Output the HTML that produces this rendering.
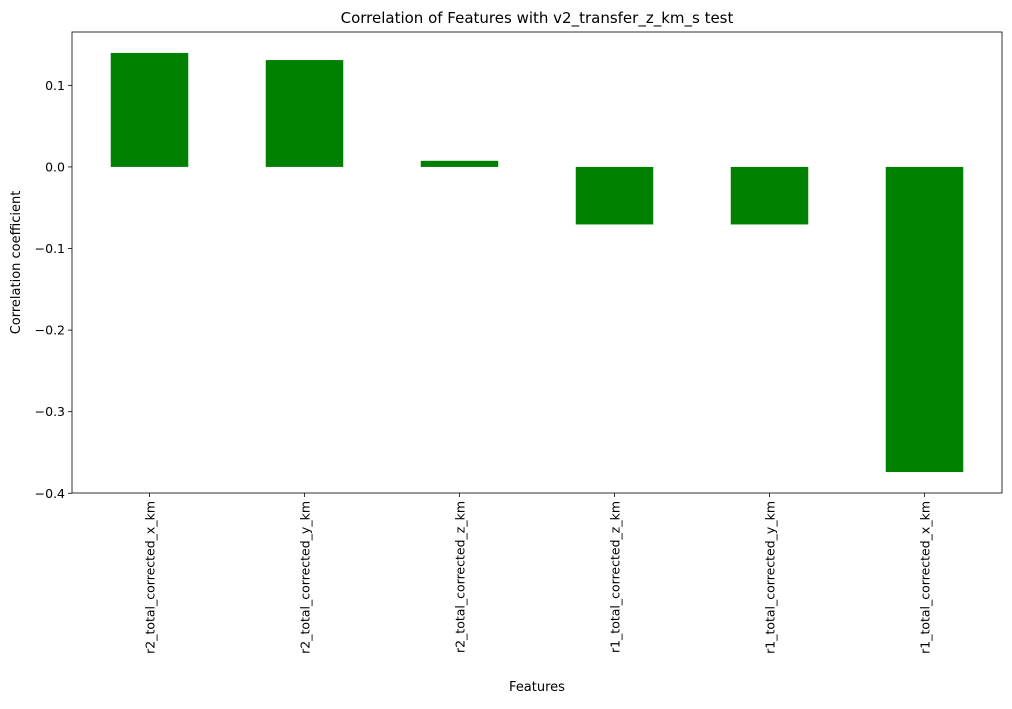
<!DOCTYPE html>
<html><head><meta charset="utf-8"><style>
body{margin:0;background:#fff;font-family:"Liberation Sans","DejaVu Sans",sans-serif;}
</style></head><body>
<svg width="1012" height="704" viewBox="0 0 1012 704" xmlns="http://www.w3.org/2000/svg" font-family="'DejaVu Sans','Liberation Sans',sans-serif">
<g id="g"></g>
</svg>
<script>
const categories=["r2_total_corrected_x_km","r2_total_corrected_y_km","r2_total_corrected_z_km","r1_total_corrected_z_km","r1_total_corrected_y_km","r1_total_corrected_x_km"];
const values=[0.1397,0.131,0.0075,-0.0705,-0.0705,-0.374];
const yTicks=[0.1,0.0,-0.1,-0.2,-0.3,-0.4];
const yTickLabels=["0.1","0.0","\u22120.1","\u22120.2","\u22120.3","\u22120.4"];
const L=72,R=1002,T=32,B=493;
const NS="http://www.w3.org/2000/svg";
const g=document.getElementById('g');
let mn=Math.min(0,...values),mx=Math.max(0,...values),pad=(mx-mn)*0.05;
const y0=mn-pad,y1=mx+pad;
const ys=v=>B-(v-y0)/(y1-y0)*(B-T);
const step=(R-L)/categories.length;
const xs=i=>L+step*(i+0.5);
function el(t,a,txt){const e=document.createElementNS(NS,t);for(const k in a)e.setAttribute(k,a[k]);if(txt!=null)e.textContent=txt;g.appendChild(e);return e;}
values.forEach((v,i)=>{
 const b=el('rect',{x:xs(i)-step*0.25,y:Math.min(ys(v),ys(0)),width:step*0.5,height:Math.abs(ys(v)-ys(0)),fill:'#008000'});
 
 
 el('line',{x1:xs(i),x2:xs(i),y1:B,y2:B+4,stroke:'#000','stroke-width':0.8});
 const t=el('text',{x:xs(i)+5,y:B+8,'font-size':12.5,'text-anchor':'end',transform:`rotate(-90 ${xs(i)+5} ${B+8})`},categories[i]);
 
 
});
yTicks.forEach((v,i)=>{
 el('line',{x1:L-4,x2:L,y1:ys(v),y2:ys(v),stroke:'#000','stroke-width':0.8});
 const t=el('text',{x:L-7,y:ys(v)+4.5,'font-size':12.5,'text-anchor':'end'},yTickLabels[i]);
 
 
});
const fr=el('rect',{x:L,y:T,width:R-L,height:B-T,fill:'none',stroke:'#000','stroke-width':0.8});


const ti=el('text',{x:(L+R)/2,y:23,'font-size':15,'text-anchor':'middle'},'Correlation of Features with v2_transfer_z_km_s test');


const xl=el('text',{x:(L+R)/2,y:691,'font-size':13,'text-anchor':'middle'},'Features');


const yl=el('text',{x:20,y:(T+B)/2,'font-size':13,'text-anchor':'middle',transform:`rotate(-90 20 ${(T+B)/2})`},'Correlation coefficient');


</script>
</body></html>
